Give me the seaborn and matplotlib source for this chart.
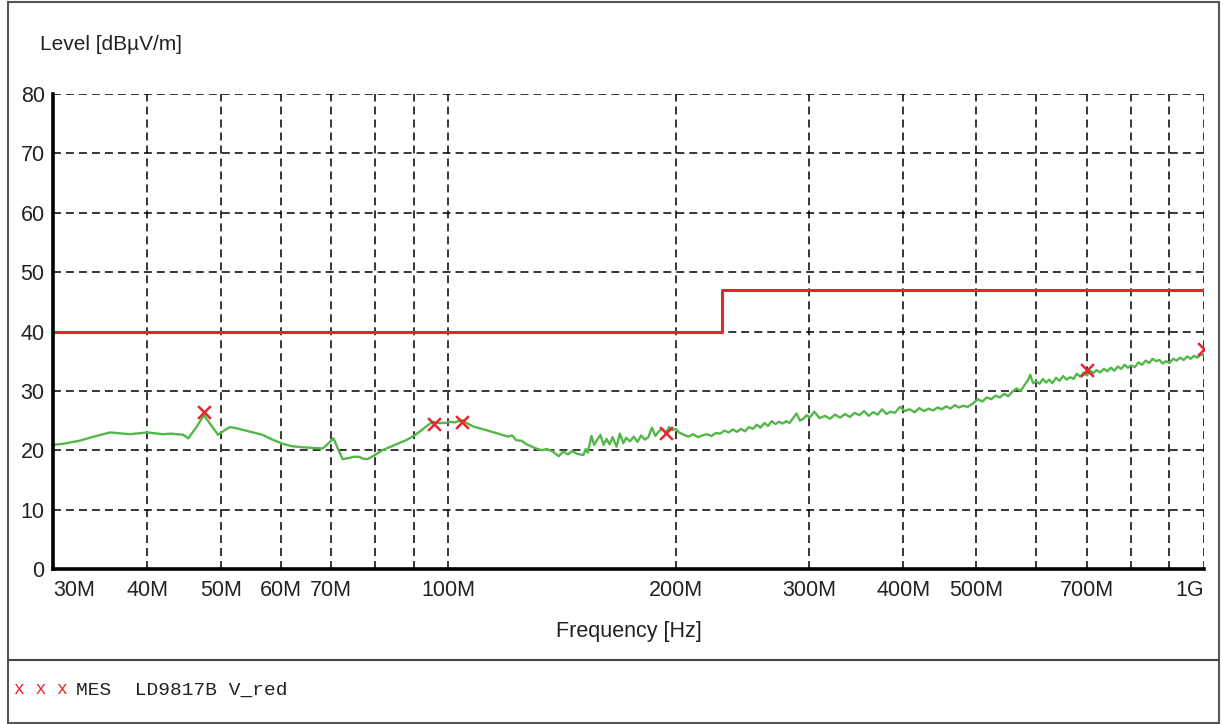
import numpy as np
import pandas as pd
import matplotlib
matplotlib.use("Agg")
import matplotlib.pyplot as plt
import seaborn as sns

# ---------------------------------------------------------------
# Radiated emission scan 30M - 1G, level in dBuV/m
# ---------------------------------------------------------------

freq_low = [30, 31, 32.5, 34, 35.7, 37.9, 40, 41.9, 43, 44.6, 45.3, 46.5, 47.5, 48.5,
            49.6, 50.5, 51.4, 52.5, 54, 56.8, 58.5, 60.4, 62, 64.2, 66, 68.2, 69.1,
            70.5, 71.5, 72.5, 74, 75, 76.2, 77, 78.2, 80, 81.8, 85, 88, 90, 91.6,
            93.5, 95.4, 97, 99.4, 100.3, 102, 104.4, 106, 108, 110, 112.2, 115, 118,
            120, 121.5, 123, 125, 127, 130.7, 133, 135, 137.5, 140, 142, 144, 146,
            148, 151]
level_low = [20.9, 21.1, 21.6, 22.3, 23.0, 22.7, 23.0, 22.7, 22.8, 22.6, 22.0, 24.0, 25.9, 24.3,
             22.6, 23.3, 23.9, 23.7, 23.3, 22.6, 21.8, 21.1, 20.7, 20.5, 20.4, 20.3, 20.9,
             22.0, 20.2, 18.5, 18.7, 18.9, 18.9, 18.6, 18.5, 19.2, 20.0, 20.9, 21.7, 22.4, 23.1,
             24.0, 24.8, 24.6, 24.6, 24.8, 24.7, 25.1, 24.5, 24.0, 23.7, 23.4, 23.0, 22.6,
             22.3, 22.5, 21.7, 21.6, 21.0, 20.3, 20.0, 20.2, 19.8, 19.0, 19.8, 19.3, 19.9,
             19.4, 19.2]

freq_mid = [152, 153, 154.7, 156, 157, 159, 160.5, 162, 163.5, 165, 167, 168.7, 170.5, 172,
            174, 176, 178, 180, 182, 184, 186, 188, 190, 192, 194, 196, 198, 200, 202,
            205, 208, 211, 214, 217, 220, 223, 226, 229, 232, 235, 238, 241, 244, 247,
            250, 253, 256, 259, 262, 265, 268, 271, 274, 277, 280, 283, 286, 289, 292,
            295, 298, 301]
level_mid = [20.2, 19.6, 22.4, 20.9, 21.5, 22.6, 20.9, 21.9, 21.0, 22.2, 20.6, 22.8, 21.2, 22.1,
             21.5, 22.3, 21.4, 22.5, 21.8, 22.2, 23.8, 22.4, 23.2, 23.6, 22.9, 23.9, 23.4, 23.6, 23.0,
             22.6, 22.3, 22.7, 22.2, 22.5, 22.7, 22.4, 22.9, 22.8, 23.3, 23.0, 23.5, 23.1, 23.6, 23.2,
             23.9, 23.6, 24.3, 23.8, 24.6, 24.1, 24.9, 24.4, 24.8, 24.5, 24.9, 24.6, 25.4, 26.2, 25.0,
             25.3, 25.9, 25.5]

freq_high = [305, 310, 315, 320, 325, 330, 335, 340, 345, 350, 355, 360, 365, 370, 375, 380,
             385, 390, 396, 402, 408, 414, 420, 426, 432, 438, 444, 450, 456, 462, 468, 474,
             480, 487, 495, 502, 509, 516, 523, 530, 537, 544, 551, 558, 565, 572, 579, 585,
             589, 594, 600, 606, 612, 618, 624, 630, 637, 644, 651, 658, 665, 672, 679, 686,
             693, 700, 707, 714, 721, 729, 737, 745, 753, 761, 769, 777, 785, 793, 801, 810,
             819, 828, 837, 846, 855, 864, 873, 882, 891, 900, 910, 920, 930, 940, 950, 960,
             970, 980, 990, 1000]
level_high = [26.5, 25.4, 25.8, 25.3, 26.0, 25.5, 26.1, 25.6, 26.3, 25.9, 26.6, 25.8, 26.4, 26.0, 26.9, 26.1,
              26.5, 26.3, 27.3, 26.6, 26.9, 26.4, 27.1, 26.6, 27.0, 26.7, 27.2, 26.9, 27.4, 27.0, 27.6, 27.2,
              27.5, 27.3, 27.9, 28.6, 28.2, 28.9, 28.6, 29.2, 28.9, 29.5, 29.1, 29.9, 30.4, 30.0, 31.0, 31.8,
              32.7, 31.3, 31.6, 31.2, 32.0, 31.4, 31.9, 31.3, 32.2, 31.7, 32.5, 31.9, 32.3, 32.0, 32.9, 32.4,
              33.1, 32.6, 33.4, 33.0, 33.5, 33.1, 33.7, 33.3, 33.9, 33.4, 34.1, 33.7, 34.4, 33.9, 34.3, 34.0,
              34.8, 34.4, 35.1, 34.7, 35.4, 35.0, 35.2, 34.6, 35.0, 34.7, 35.4, 35.1, 35.6, 35.2, 35.8, 35.4,
              35.9, 35.6, 36.1, 36.0]

# limit line (step at 230M)
limit_freq = [30, 230, 230, 1000]
limit_level = [40, 40, 47, 47]

# final measurement points (MES)
mes_freq = [47.5, 95.8, 104.3, 194, 701, 1000]
mes_level = [26.4, 24.5, 24.7, 22.9, 33.6, 37.0]

grid_freq = [30, 40, 50, 60, 70, 80, 90, 100, 200, 300, 400, 500, 600, 700, 800, 900, 1000]
grid_labels = ['30M', '40M', '50M', '60M', '70M', '', '', '100M', '200M', '300M', '400M',
               '500M', '', '700M', '', '', '1G']

trace = pd.DataFrame({'freq': freq_low + freq_mid + freq_high,
                      'level': level_low + level_mid + level_high})
limit = pd.DataFrame({'freq': limit_freq, 'level': limit_level})
mes = pd.DataFrame({'freq': mes_freq, 'level': mes_level})

sns.set_style('white')
plt.rcParams['font.family'] = ['Liberation Sans', 'DejaVu Sans']

W, H = 1223, 724
fig = plt.figure(figsize=(W / 100, H / 100), dpi=100)
ax = fig.add_axes([53 / W, 1 - 569 / H, (1204 - 53) / W, (569 - 94) / H])

sns.lineplot(data=limit, x='freq', y='level', ax=ax, color='#e3262b', linewidth=2.2,
             estimator=None, errorbar=None, zorder=4)
sns.lineplot(data=trace, x='freq', y='level', ax=ax, color='#52b847', linewidth=1.7,
             estimator=None, errorbar=None, zorder=5)
sns.scatterplot(data=mes, x='freq', y='level', ax=ax, marker='x', color='#e8262e', s=85,
                linewidth=1.8, zorder=6)

ax.set_xscale('log')
ax.set_xlim(30, 1000)
ax.set_ylim(0, 80)
ax.minorticks_off()
ax.set_xticks(grid_freq)
ax.set_xticklabels(grid_labels)
ax.set_yticks(range(0, 81, 10))
labs = ax.get_xticklabels()
labs[0].set_horizontalalignment('left')
labs[-1].set_horizontalalignment('right')

ax.grid(True, color='black', linestyle=(0, (5.2, 3.3)), linewidth=1.1)
ax.tick_params(length=0, labelsize=15.5, colors='#222222')
ax.tick_params(axis='x', pad=8)
ax.tick_params(axis='y', pad=6)
for s in ['top', 'right']:
    ax.spines[s].set_visible(False)
for s in ['left', 'bottom']:
    ax.spines[s].set_linewidth(2.6)
    ax.spines[s].set_color('black')
    ax.spines[s].set_zorder(7)

ax.set_xlabel('Frequency [Hz]', fontsize=15.5, labelpad=14, color='#222222')
ax.set_ylabel('')
fig.text(40 / W, 1 - 45 / H, 'Level [dB\u00b5V/m]', fontsize=15, ha='left', va='center',
         color='#222222')

# frame and legend box
fig.add_artist(plt.Rectangle((8 / W, 1 / H), (1219 - 8) / W, (722 - 1) / H, fill=False,
                             edgecolor='#555555', linewidth=1.5, transform=fig.transFigure))
fig.add_artist(plt.Line2D([8 / W, 1219 / W], [1 - 660 / H, 1 - 660 / H], color='#444444',
                          linewidth=1.5, transform=fig.transFigure))
fig.text(14 / W, 1 - 690 / H, 'x x x', family='Liberation Mono', fontsize=13, color='#e8262e',
         ha='left', va='center')
fig.text(76 / W, 1 - 690 / H, 'MES  LD9817B V_red', family='Liberation Mono', fontsize=14,
         color='#222222', ha='left', va='center')

plt.savefig('out.png', dpi=100)
